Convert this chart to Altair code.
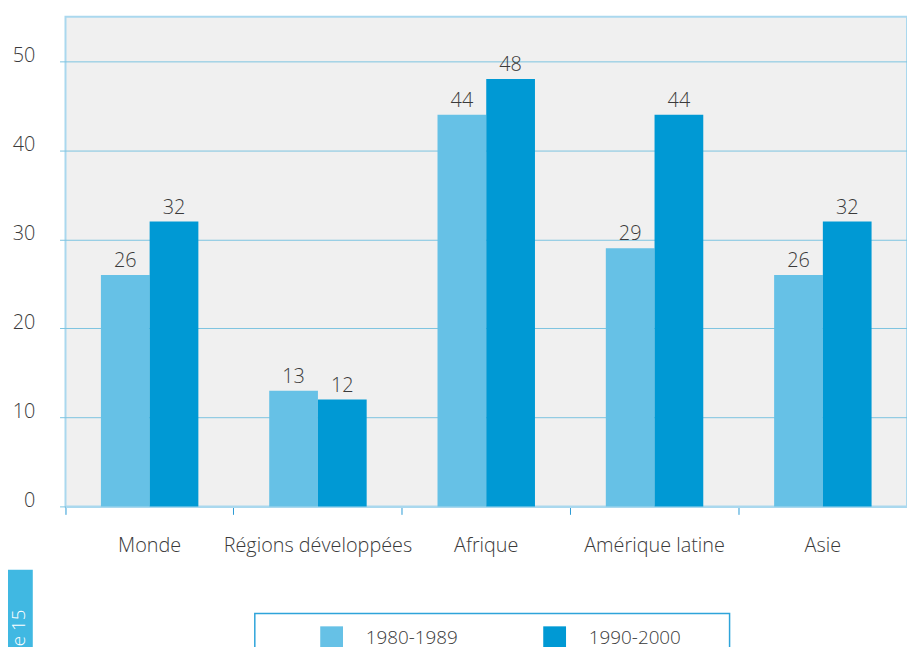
import altair as alt
import pandas as pd

categories = ["Monde", "Régions développées", "Afrique", "Amérique latine", "Asie"]
periods = ["1980-1989", "1990-2000"]
values_1980 = [26, 13, 44, 29, 26]
values_1990 = [32, 12, 48, 44, 32]
y_ticks = [0, 10, 20, 30, 40, 50]
tab_text = ["e 15"]

rows = []
for c, a, b in zip(categories, values_1980, values_1990):
    rows.append({"region": c, "period": periods[0], "value": a})
    rows.append({"region": c, "period": periods[1], "value": b})
df = pd.DataFrame(rows)

FONT = "Open Sans"
FW = 300
TXT = "#3a3a3a"
LIGHT = "#66c1e6"
DARK = "#0099d4"
GRID = "#7cc3e0"

x = alt.X(
    "region:N", sort=categories, title=None,
    scale=alt.Scale(paddingInner=0, paddingOuter=0),
    axis=alt.Axis(
        bandPosition=0, labelOffset=0, labelAngle=0, labelFont=FONT, labelFontSize=20,
        labelFontWeight=FW, labelColor=TXT, labelPadding=22, labelBaseline="top",
        tickSize=8, tickColor="#2a9ad4", tickWidth=1, domainColor="#aad8ee", domainWidth=2,
        grid=False, labelLimit=300,
    ),
)
xoff = alt.XOffset("period:N", sort=periods, scale=alt.Scale(paddingInner=0, paddingOuter=0.727))
y = alt.Y(
    "value:Q", title=None,
    scale=alt.Scale(domain=[0, 55], nice=False),
    axis=alt.Axis(
        values=y_ticks, labelFont=FONT, labelFontSize=20, labelFontWeight=FW, labelColor=TXT,
        labelPadding=25, labelOffset=-6, tickSize=6, tickColor=GRID, gridColor=GRID,
        gridWidth=1, domain=False,
    ),
)
color = alt.Color(
    "period:N", sort=periods,
    scale=alt.Scale(domain=periods, range=[LIGHT, DARK]),
    legend=alt.Legend(
        orient="none", legendX=189, legendY=603, direction="horizontal", title=None,
        symbolType="square", symbolSize=529, symbolStrokeWidth=0, symbolOffset=56,
        labelOffset=23, columnPadding=30, padding=12,
        labelFont=FONT, labelFontSize=19, labelFontWeight=FW, labelColor=TXT, labelLimit=400,
    ),
)

base = alt.Chart(df)
bars = base.mark_bar().encode(x=x, xOffset=xoff, y=y, color=color)
labels = base.mark_text(
    font=FONT, fontSize=20, fontWeight=FW, color=TXT, baseline="alphabetic", dy=-8
).encode(x=x, xOffset=xoff, y=y, text=alt.Text("value:Q"))

tab_df = pd.DataFrame({"t": tab_text})
legend_box = alt.Chart(tab_df).mark_rect(fill="white", stroke="#2ea4da", strokeWidth=1.5).encode(
    x=alt.value(191), x2=alt.value(670), y=alt.value(602), y2=alt.value(660)
)
tab = alt.Chart(tab_df).mark_rect(color="#40b8e2").encode(
    x=alt.value(-58), x2=alt.value(-33), y=alt.value(558), y2=alt.value(650)
)
tab_label = alt.Chart(tab_df).mark_text(
    font=FONT, fontSize=19, fontWeight=FW, color="white", angle=270, align="right",
    baseline="middle"
).encode(x=alt.value(-47), y=alt.value(598), text="t:N")

chart = alt.layer(legend_box, bars, labels, tab, tab_label).properties(
    width=849, height=494,
    autosize=alt.AutoSizeParams(type="none"),
    padding={"left": 58, "top": 6, "right": 0, "bottom": 139},
    background="white",
).configure_view(
    fill="#f0f0f0", stroke="#aad8ee", strokeWidth=2
)

chart.save("out.html", embed_options={"renderer": "svg", "actions": False})
